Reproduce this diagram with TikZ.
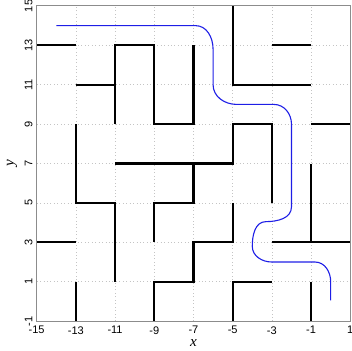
\documentclass[tikz,border=0pt]{standalone}
\usepackage{fontspec}
\setmainfont{Liberation Serif}
\setsansfont{Liberation Sans}
\usepackage{xcolor}
\definecolor{axis-gray}{HTML}{8C8C8C}
\definecolor{grid-gray}{HTML}{C4C4C4}
\definecolor{path-blue}{HTML}{1E1EE6}

\tikzset{
  wall/.style={draw=black, line width=1.6pt},
  route/.style={draw=path-blue, line width=0.8pt},
  gridline/.style={draw=grid-gray, dotted, line width=0.5pt},
  ticklabel/.style={font=\sffamily\fontsize{8}{9}\selectfont, inner sep=0pt},
  axislabel/.style={font=\itshape\fontsize{11}{12}\selectfont, inner sep=0pt}
}

\begin{document}
\begin{tikzpicture}[x=0.5cm, y=0.5025cm]
    \useasboundingbox (-16.87,-2.47) rectangle (1.087,15.30);
    % grid
    \foreach \g in {-13,-11,...,-1}
      \draw[gridline] (\g,-1) -- (\g,15);
    \foreach \g in {1,3,...,13}
      \draw[gridline] (-15,\g) -- (1,\g);
    % maze walls
    \draw[wall] (-15,13) -- (-13,13);
    \draw[wall] (-13,11) -- (-11,11);
    \draw[wall] (-11,9) -- (-11,13) -- (-9,13) -- (-9,9) -- (-7,9) -- (-7,13);
    \draw[wall] (-5,15) -- (-5,11) -- (-1,11);
    \draw[wall] (-3,13) -- (-1,13);
    \draw[wall] (-1,9) -- (1,9);
    \draw[wall] (-13,9) -- (-13,5) -- (-11,5) -- (-11,1);
    \draw[wall] (-11,7) -- (-5,7) -- (-5,9) -- (-3,9) -- (-3,5);
    \draw[wall] (-7,7) -- (-7,5) -- (-9,5) -- (-9,3);
    \draw[wall] (-1,7) -- (-1,3);
    \draw[wall] (-3,3) -- (1,3);
    \draw[wall] (-5,5) -- (-5,3) -- (-7,3) -- (-7,1) -- (-9,1) -- (-9,-1);
    \draw[wall] (-5,-1) -- (-5,1) -- (-3,1);
    \draw[wall] (-1,1) -- (-1,-1);
    \draw[wall] (-15,3) -- (-13,3);
    \draw[wall] (-13,1) -- (-13,-1);
    % path
    \draw[route] (-14,14) -- (-6.9,14) to[out=0,in=90] (-6,12.8)
      -- (-6,11) to[out=-90,in=180] (-4.8,10) -- (-2.9,10)
      to[out=0,in=90] (-2,9) -- (-2,4.8) to[out=-90,in=0] (-3.3,4.05)
      to[out=180,in=90] (-4,2.8) to[out=-90,in=180] (-3,2) -- (-0.8,2)
      to[out=0,in=90] (0,1) -- (0,0.05);
    % axes
    \draw[axis-gray, line width=0.6pt] (-15,-1) rectangle (1,15);
    \foreach \t in {-15,-13,...,1}
      \node[ticklabel, anchor=north] (xt\t) at (\t,-1.25) {\t};
    \foreach \t in {-1,1,...,15}
      \node[ticklabel, anchor=south, rotate=90] (yt\t) at (-15.2,\t) {\t};
    \node[axislabel] (xlab) at (-7,-2.12) {x};
    \node[axislabel, rotate=90] (ylab) at (-16.25,7) {y};
  \end{tikzpicture}
\end{document}
